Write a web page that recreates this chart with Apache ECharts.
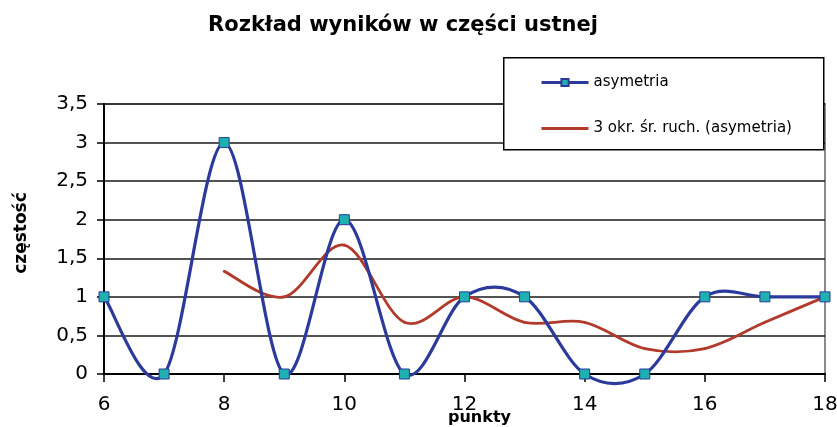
<!DOCTYPE html>
<html><head><meta charset="utf-8">
<script src="https://cdn.jsdelivr.net/npm/echarts@6/dist/echarts.min.js"></script>
<style>html,body{margin:0;padding:0;background:#fff}#c{width:837px;height:427px}</style>
</head><body><div id="c"></div>
<script>
var points = [6,7,8,9,10,11,12,13,14,15,16,17,18];
var asymetria = [1,0,3,0,2,0,1,1,0,0,1,1,1];
var maPoints = [8,9,10,11,12,13,14,15,16,17,18];
var movingAvg = [1.33,1,1.67,0.67,1,0.67,0.67,0.33,0.33,0.67,1];
var yTicks = {min:0, max:3.5, interval:0.5};
var xTicks = {min:6, max:18, interval:2};

var BLUE = '#2b3a9b', RED = '#b13a2c', TEAL = '#1fb0b2';
var font = 'DejaVu Sans, Verdana, sans-serif';

// Excel-style smoothed curve (cardinal bezier) drawn in pixel space from api.coord
function smoothRender(xs, ys, color, width) {
  return function (params, api) {
    if (params.dataIndex !== 0) return null;
    var p = xs.map(function (x, i) { return api.coord([x, ys[i]]); });
    var children = [];
    for (var i = 0; i < p.length - 1; i++) {
      var p0 = p[i > 0 ? i - 1 : i], p1 = p[i], p2 = p[i + 1], p3 = p[i + 2 < p.length ? i + 2 : i + 1];
      children.push({
        type: 'bezierCurve',
        shape: {
          x1: p1[0], y1: p1[1], x2: p2[0], y2: p2[1],
          cpx1: p1[0] + (p2[0] - p0[0]) / 6, cpy1: p1[1] + (p2[1] - p0[1]) / 6,
          cpx2: p2[0] - (p3[0] - p1[0]) / 6, cpy2: p2[1] - (p3[1] - p1[1]) / 6
        },
        style: { fill: null, stroke: color, lineWidth: width, lineCap: 'round', lineJoin: 'round' }
      });
    }
    return { type: 'group', children: children };
  };
}

var chart = echarts.init(document.getElementById('c'));
chart.setOption({
  animation:false,
  backgroundColor:'#fff',
  title:{text:'Rozkład wyników w części ustnej', left:398, textAlign:'center', top:10,
    textStyle:{fontFamily:font, fontSize:21, fontWeight:'bold', color:'#000'}},
  grid:{left:104, right:12, top:104, bottom:53, show:true, borderColor:'#8a8a8a', borderWidth:2,
    backgroundColor:'transparent', containLabel:false, outerBoundsMode:'none'},
  graphic:[{type:'rect', left:503, top:57, z:10,
    shape:{width:320, height:92}, style:{fill:'#fff', stroke:'#000', lineWidth:1.5}}],
  legend:{left:535, top:70, orient:'vertical', itemGap:31, itemWidth:47, itemHeight:9, z:11,
    textStyle:{fontFamily:font, fontSize:15, color:'#000'},
    data:[
      {name:'asymetria', lineStyle:{color:BLUE, width:3, opacity:1}},
      {name:'3 okr. śr. ruch. (asymetria)', lineStyle:{color:RED, width:3, opacity:1}, itemStyle:{opacity:0}}
    ]},
  xAxis:{type:'value', min:xTicks.min, max:xTicks.max, interval:xTicks.interval,
    name:'punkty', nameLocation:'middle', nameGap:36, nameMoveOverlap:false,
    nameTextStyle:{fontFamily:font, fontSize:16, fontWeight:'bold', color:'#000', padding:[0,0,0,30]},
    axisLine:{lineStyle:{color:'#000', width:2}}, axisTick:{show:true, length:8, lineStyle:{color:'#000', width:1.5}},
    axisLabel:{fontFamily:font, fontSize:20, color:'#000', margin:21},
    splitLine:{show:false}},
  yAxis:{type:'value', min:yTicks.min, max:yTicks.max, interval:yTicks.interval,
    name:'częstość', nameLocation:'middle', nameGap:74, nameRotate:90, nameMoveOverlap:false,
    nameTextStyle:{fontFamily:font, fontSize:17, fontWeight:'bold', color:'#000', padding:[0,0,0,12]},
    axisLine:{show:true, lineStyle:{color:'#000', width:2}}, axisTick:{show:true, length:7, lineStyle:{color:'#000', width:1.5}},
    axisLabel:{fontFamily:font, fontSize:20, color:'#000', margin:16, formatter:function(v){return String(v).replace('.',',');}},
    splitLine:{show:true, lineStyle:{color:'#1a1a1a', width:1.5}}},
  series:[
    {name:'asymetria', type:'line', data:points.map(function(x,i){return [x, asymetria[i]];}),
      lineStyle:{color:BLUE, width:3, opacity:0}, symbol:'rect', symbolSize:10,
      itemStyle:{color:TEAL, borderColor:BLUE, borderWidth:1}, z:5},
    {name:'3 okr. śr. ruch. (asymetria)', type:'line', data:maPoints.map(function(x,i){return [x, movingAvg[i]];}),
      lineStyle:{color:RED, width:3, opacity:0}, symbol:'none', itemStyle:{color:RED}, z:2},
    {name:'asymetria-curve', type:'custom', clip:false, z:4,
      data:points.map(function(x,i){return [x, asymetria[i]];}),
      renderItem:smoothRender(points, asymetria, BLUE, 3.2)},
    {name:'ma-curve', type:'custom', clip:false, z:3,
      data:maPoints.map(function(x,i){return [x, movingAvg[i]];}),
      renderItem:smoothRender(maPoints, movingAvg, RED, 2.8)}
  ]
});
</script></body></html>
